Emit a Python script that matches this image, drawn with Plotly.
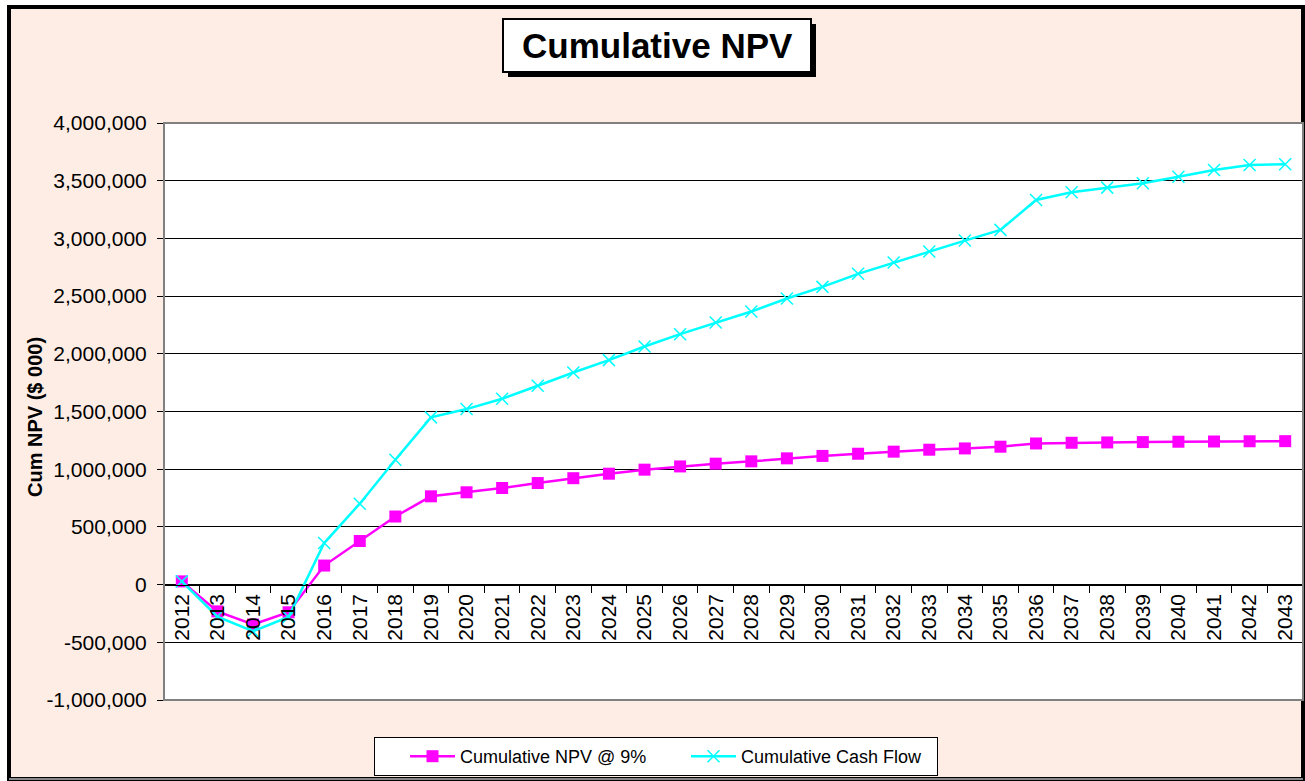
import plotly.graph_objects as go

# Project years (category axis)
years = [str(y) for y in range(2012, 2044)]

# Cumulative NPV discounted at 9% ($ 000)
npv_9 = [28000, -232000, -346000, -240000, 165000, 378000, 590000, 765000,
         800000, 837000, 880000, 922000, 961000, 996000, 1024000, 1048000,
         1068000, 1094000, 1115000, 1134000, 1152000, 1169000, 1180000, 1195000,
         1223000, 1229000, 1232000, 1235000, 1238000, 1240000, 1242000, 1243000]

# Undiscounted cumulative cash flow ($ 000)
cum_cash = [28000, -277000, -404000, -280000, 360000, 701000, 1082000, 1449000,
            1521000, 1610000, 1723000, 1838000, 1945000, 2063000, 2170000, 2271000,
            2366000, 2479000, 2580000, 2693000, 2791000, 2886000, 2981000, 3074000,
            3333000, 3400000, 3440000, 3478000, 3535000, 3593000, 3636000, 3642000]

# Value axis ticks
y_ticks = [-1000000, -500000, 0, 500000, 1000000, 1500000, 2000000,
           2500000, 3000000, 3500000, 4000000]
y_tick_labels = ["-1,000,000", "-500,000", "0", "500,000", "1,000,000", "1,500,000",
                 "2,000,000", "2,500,000", "3,000,000", "3,500,000", "4,000,000"]

W, H = 1305, 781
ML, MR, MT, MB = 164, 2, 123, 81
PW, PH = W - ML - MR, H - MT - MB
FONT = "Arial, Liberation Sans, sans-serif"


def px(x):
    return (x - ML) / PW


def py(y):
    return (H - MB - y) / PH


fig = go.Figure()

fig.add_trace(go.Scatter(
    x=years, y=npv_9, name="Cumulative NPV @ 9%", mode="lines+markers",
    line=dict(color="#FF00FF", width=2.5),
    marker=dict(symbol="square", size=12, color="#FF00FF"),
))
fig.add_trace(go.Scatter(
    x=years, y=cum_cash, name="Cumulative Cash Flow", mode="lines+markers",
    line=dict(color="#00FFFF", width=2.5),
    marker=dict(symbol="x-thin", size=12, color="#00FFFF",
                line=dict(color="#00FFFF", width=1.5)),
))

y_min, y_max = y_ticks[0], y_ticks[-1]
zero_pos = (0 - y_min) / (y_max - y_min)

fig.update_layout(
    template="none",
    width=W, height=H,
    margin=dict(l=ML, r=MR, t=MT, b=MB, autoexpand=False),
    paper_bgcolor="white",
    plot_bgcolor="rgba(0,0,0,0)",
    font=dict(family=FONT, color="black"),
    showlegend=True,
    legend=dict(
        orientation="h", x=px(656), xanchor="center", y=py(737), yanchor="top",
        bgcolor="white", bordercolor="black", borderwidth=1,
        font=dict(family=FONT, size=18, color="black"),
        itemwidth=45, entrywidth=191, indentation=30, tracegroupgap=0,
    ),
    xaxis=dict(
        type="category", range=[-0.5, len(years) - 0.5],
        anchor="free", position=zero_pos,
        showline=True, linecolor="black", linewidth=1,
        ticks="outside", tickson="boundaries", ticklen=7, tickcolor="black",
        tickangle=-90, tickfont=dict(family=FONT, size=21, color="black"),
        showgrid=False, zeroline=False, automargin=False,
    ),
    yaxis=dict(
        range=[y_min, y_max], tickvals=y_ticks, ticktext=y_tick_labels,
        showline=True, linecolor="black", linewidth=1,
        ticks="outside", ticklen=6, tickcolor="black", ticklabelstandoff=6,
        tickfont=dict(family=FONT, size=21, color="black"),
        showgrid=True, gridcolor="black", gridwidth=1,
        zeroline=True, zerolinecolor="black", zerolinewidth=1,
        automargin=False,
    ),
    shapes=[
        # chart area with its heavy outer frame
        dict(type="rect", xref="paper", yref="paper", layer="below",
             x0=px(9), x1=px(1303), y0=py(7), y1=py(779),
             fillcolor="#FEEDE5", line=dict(color="black", width=4)),
        dict(type="line", xref="paper", yref="paper", layer="below",
             x0=px(9), x1=px(1303), y0=py(779), y1=py(779),
             line=dict(color="#888888", width=2)),
        # white plot area
        dict(type="rect", xref="paper", yref="paper", layer="below",
             x0=0, x1=1, y0=0, y1=1, fillcolor="white",
             line=dict(width=0)),
        # plot area border
        dict(type="rect", xref="paper", yref="paper", layer="above",
             x0=0, x1=1, y0=0, y1=1,
             line=dict(color="#808080", width=2)),
        # title box shadow and box
        dict(type="rect", xref="paper", yref="paper", layer="above",
             x0=px(508), x1=px(816), y0=py(24), y1=py(77),
             fillcolor="black", line=dict(width=0)),
        dict(type="rect", xref="paper", yref="paper", layer="above",
             x0=px(503), x1=px(811), y0=py(19), y1=py(72),
             fillcolor="white", line=dict(color="black", width=2)),
    ],
    annotations=[
        dict(text="<b>Cumulative NPV</b>", xref="paper", yref="paper",
             x=px(657), y=py(45.5), xanchor="center", yanchor="middle",
             showarrow=False, font=dict(family=FONT, size=35, color="black")),
        dict(text="<b>Cum NPV ($ 000)</b>", xref="paper", yref="paper",
             x=px(35), y=py(417), xanchor="center", yanchor="middle",
             textangle=-90, showarrow=False,
             font=dict(family=FONT, size=20, color="black")),
    ],
)

fig.write_html("out.html")
